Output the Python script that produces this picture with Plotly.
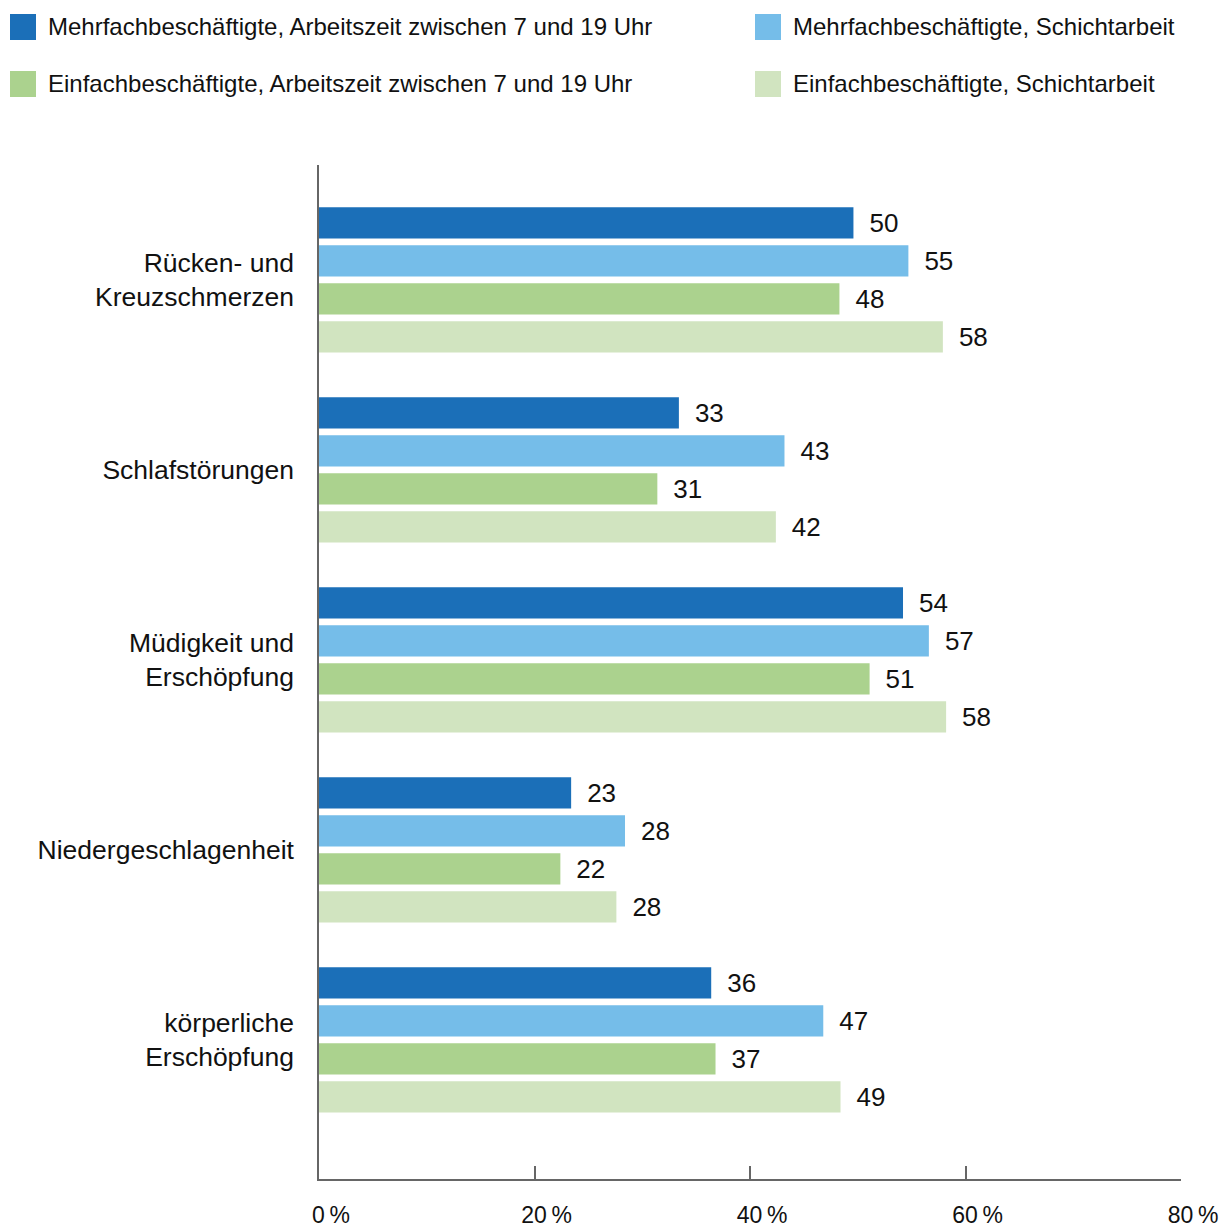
import plotly.graph_objects as go

categories = ["Rücken- und<br>Kreuzschmerzen", "Schlafstörungen", "Müdigkeit und<br>Erschöpfung",
              "Niedergeschlagenheit", "körperliche<br>Erschöpfung"]
series_names = ["Mehrfachbeschäftigte, Arbeitszeit zwischen 7 und 19 Uhr",
                "Mehrfachbeschäftigte, Schichtarbeit",
                "Einfachbeschäftigte, Arbeitszeit zwischen 7 und 19 Uhr",
                "Einfachbeschäftigte, Schichtarbeit"]
mehr_tag = [49.6, 33.4, 54.2, 23.4, 36.4]
mehr_schicht = [54.7, 43.2, 56.6, 28.4, 46.8]
einf_tag = [48.3, 31.4, 51.1, 22.4, 36.8]
einf_schicht = [57.9, 42.4, 58.2, 27.6, 48.4]
labels_mehr_tag = ["50", "33", "54", "23", "36"]
labels_mehr_schicht = ["55", "43", "57", "28", "47"]
labels_einf_tag = ["48", "31", "51", "22", "37"]
labels_einf_schicht = ["58", "42", "58", "28", "49"]
tick_vals = [0, 20, 40, 60, 80]
tick_text = ["0\u2009%", "20\u2009%", "40\u2009%", "60\u2009%", "80\u2009%"]

colors = ["#1b6fb8", "#75bde9", "#abd28e", "#d1e4c0"]
values = [mehr_tag, mehr_schicht, einf_tag, einf_schicht]
labels = [labels_mehr_tag, labels_mehr_schicht, labels_einf_tag, labels_einf_schicht]

FONT = "Liberation Sans, Arial, sans-serif"
W, H = 1227, 1231
ML, MR, MT, MB = 319, 46, 165, 52
PW, PH = W - ML - MR, H - MT - MB

def px_x(p):
    return (p - ML) / PW

def px_y(p):
    return (H - MB - p) / PH

fig = go.Figure()
for name, vals, labs, col in zip(series_names, values, labels, colors):
    fig.add_trace(go.Bar(
        y=categories, x=vals, name=name, orientation="h",
        marker=dict(color=col, line=dict(width=0)),
        text=labs, texttemplate="\u2002%{text}", textposition="outside",
        textfont=dict(family=FONT, size=26, color="#111111"),
        cliponaxis=False, showlegend=False,
    ))

# legend drawn as shapes + annotations
legend_pos = [(10, 27), (755, 27), (10, 84), (755, 84)]
for (lx, ly), name, col in zip(legend_pos, series_names, colors):
    fig.add_shape(type="rect", xref="paper", yref="paper",
                  x0=px_x(lx), x1=px_x(lx + 26), y0=px_y(ly - 13), y1=px_y(ly + 13),
                  fillcolor=col, line=dict(width=0))
    fig.add_annotation(xref="paper", yref="paper", x=px_x(lx + 36), y=px_y(ly),
                       xanchor="left", yanchor="middle", text=name, showarrow=False,
                       font=dict(family=FONT, size=24, color="#111111"))

fig.update_layout(
    width=W, height=H,
    margin=dict(l=ML, r=MR, t=MT, b=MB, autoexpand=False),
    barmode="group", bargap=0.2, bargroupgap=0.18,
    plot_bgcolor="white", paper_bgcolor="white",
    font=dict(family=FONT, size=24, color="#111111"),
    xaxis=dict(range=[0, 80], tickvals=tick_vals, ticktext=tick_text, automargin=False,
               showgrid=False, zeroline=False, showline=True, linecolor="#666666", linewidth=1.5,
               ticks="inside", ticklen=13, tickcolor="#666666", tickwidth=1.5,
               ticklabelstandoff=15, ticklabelshift=12,
               tickfont=dict(family=FONT, size=23, color="#111111")),
    yaxis=dict(type="category", range=[4.732, -0.605], showgrid=False, zeroline=False,
               automargin=False,
               showline=True, linecolor="#666666", linewidth=1.5, ticks="",
               ticklabelstandoff=18,
               tickfont=dict(family=FONT, size=26.5, color="#111111")),
)

fig.write_html("out.html", config={"displayModeBar": False},
               post_script="document.body.style.margin='0';document.body.style.overflow='hidden';")
